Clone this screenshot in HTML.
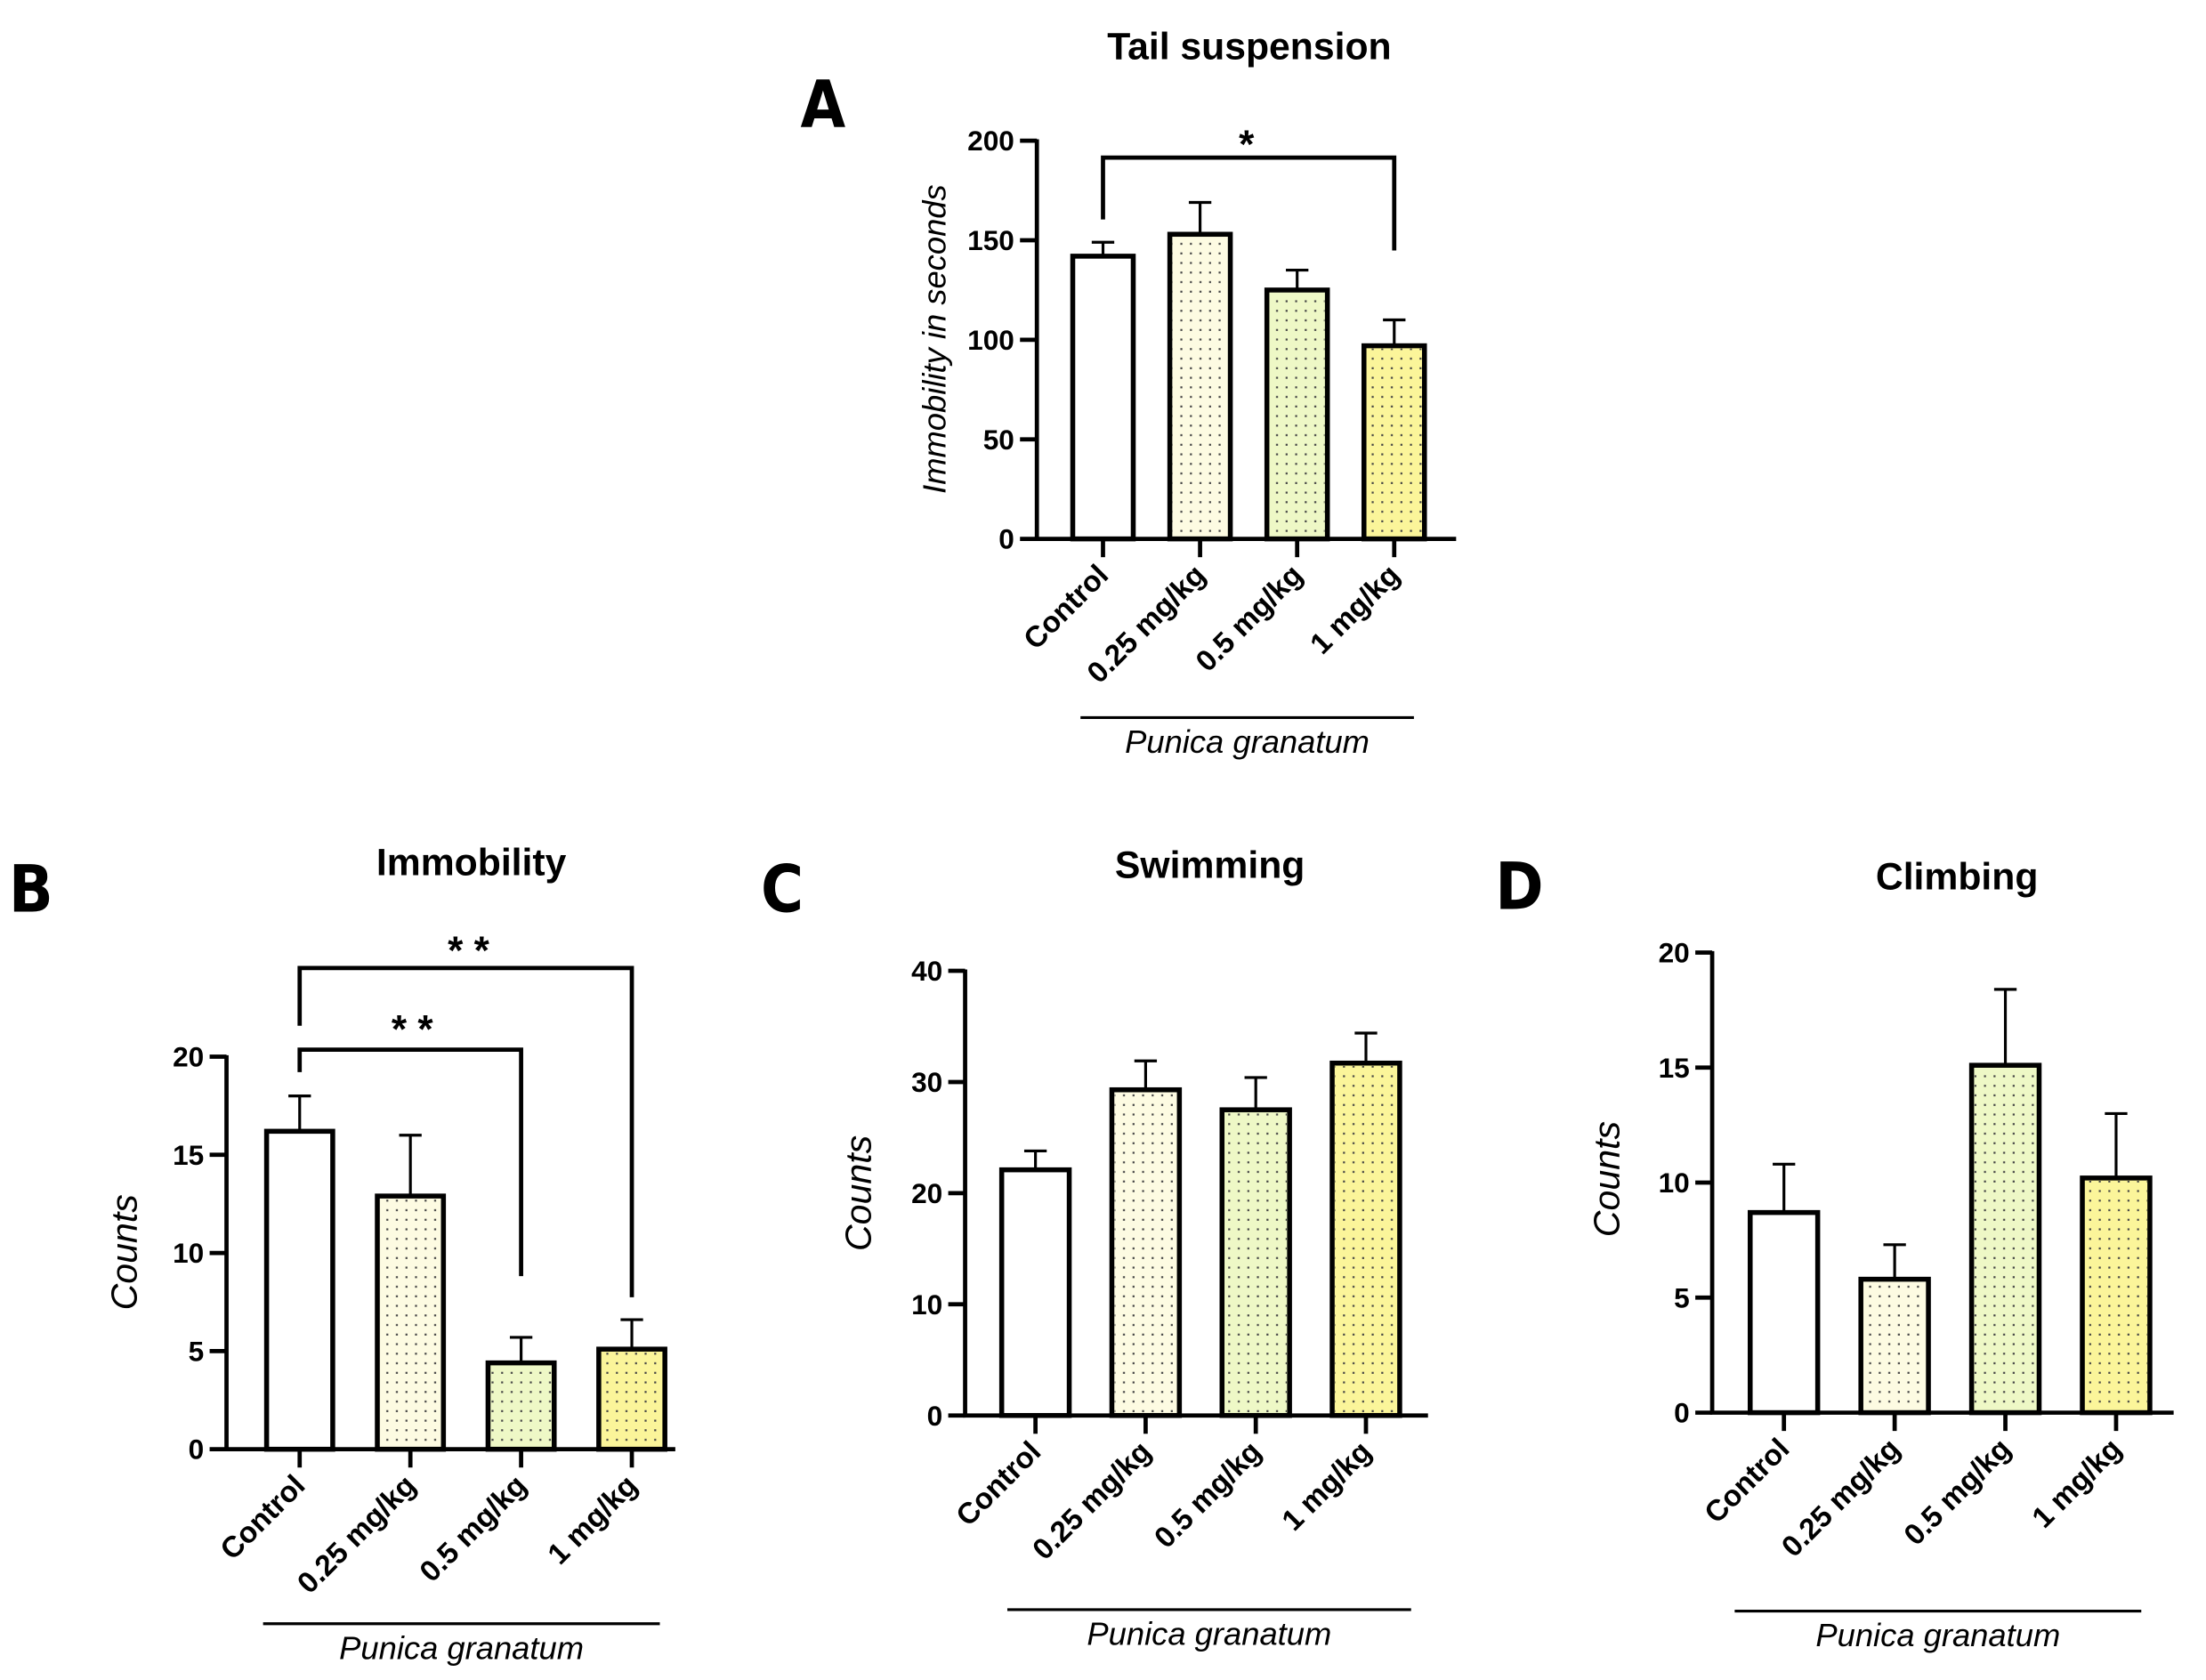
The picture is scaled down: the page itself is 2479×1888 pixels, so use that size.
<!DOCTYPE html>
<html><head><meta charset="utf-8"><style>
html,body{margin:0;padding:0;background:#fff;}
svg{display:block;}
text{font-family:"Liberation Sans",sans-serif;}
</style></head><body>
<svg id="fig" xmlns="http://www.w3.org/2000/svg" width="2479" height="1888" viewBox="0 0 1568 1194" preserveAspectRatio="none">
<defs>
<pattern id="dots" width="6.8" height="6.8" patternUnits="userSpaceOnUse"><rect x="2.6" y="2.6" width="1.4" height="1.4" fill="#444"/></pattern>
</defs>
<rect width="1568" height="1194" fill="#fff"/>
</svg>
<script>
const categories = ["Control","0.25 mg/kg","0.5 mg/kg","1 mg/kg"];
const fills = ["#ffffff","#fdfbe2","#eef8c6","#fbf59a"];
const tailValues = [142,153,125,97];
const tailErrors = [149,169,135,110];
const tailTicks = [0,50,100,150,200];
const immValues = [16.2,12.9,4.4,5.1];
const immErrors = [18,16,5.7,6.6];
const immTicks = [0,5,10,15,20];
const swimValues = [22.1,29.3,27.5,31.7];
const swimErrors = [23.8,31.9,30.4,34.4];
const swimTicks = [0,10,20,30,40];
const climbValues = [8.7,5.8,15.1,10.2];
const climbErrors = [10.8,7.3,18.4,13.0];
const climbTicks = [0,5,10,15,20];

const NS="http://www.w3.org/2000/svg";
const svg=document.getElementById('fig');
function mk(tag,attrs,parent,txt){const e=document.createElementNS(NS,tag);for(const k in attrs)e.setAttribute(k,attrs[k]);if(txt!==undefined)e.textContent=txt;(parent||svg).appendChild(e);return e;}

function panel(o){
  const g=mk('g',{});
  
  
  const ymax=o.ticks[o.ticks.length-1];
  const y=v=>o.y0-(v/ymax)*(o.y0-o.ytop);
  const x=i=>o.x1+o.off+i*o.step;
  const L=mk('text',{x:o.lx,y:o.ly,'font-size':46,'font-weight':'bold','text-anchor':'middle',style:'font-family:"DejaVu Sans Condensed","Liberation Sans Narrow",sans-serif'},g,o.letter);
  
  
  const T=mk('text',{x:o.tx,y:o.ty,'font-size':27,'font-weight':'bold','text-anchor':'middle'},g,o.title);
  
  
  o.values.forEach((v,i)=>{
    const cx=x(i), w=o.bw;
    const eb=mk('line',{x1:cx,x2:cx,y1:y(v),y2:y(o.errors[i]),stroke:'#000','stroke-width':2},g);
    
    
    mk('line',{x1:cx-8,x2:cx+8,y1:y(o.errors[i]),y2:y(o.errors[i]),stroke:'#000','stroke-width':2},g);
    const r=mk('rect',{x:cx-w/2,y:y(v),width:w,height:o.y0-y(v),fill:fills[i],stroke:'#000','stroke-width':3.5},g);
    
    
    if(i>0)mk('rect',{x:cx-w/2+2,y:y(v)+2,width:w-4,height:Math.max(0,o.y0-y(v)-4),fill:'url(#dots)'},g);
    mk('line',{x1:cx,x2:cx,y1:o.y0,y2:o.y0+13,stroke:'#000','stroke-width':3},g);
    const t=mk('text',{x:cx+5,y:o.y0+27,'font-size':21,'font-weight':'bold','text-anchor':'end',transform:`rotate(-45 ${cx+5} ${o.y0+27})`},g,categories[i]);
    
    
  });
  const ax=mk('path',{d:`M${o.x1} ${o.ytop-1}V${o.y0}H${o.x2}`,fill:'none',stroke:'#000','stroke-width':3},g);
  
  
  o.ticks.forEach(v=>{
    mk('line',{x1:o.x1-12,x2:o.x1,y1:y(v),y2:y(v),stroke:'#000','stroke-width':3},g);
    const t=mk('text',{x:o.x1-16,y:y(v)+7,'font-size':20,'font-weight':'bold','text-anchor':'end'},g,String(v));
    
    
  });
  const yl=mk('text',{x:o.ylx,y:o.yly,'font-size':o.ylfs,'font-style':'italic','text-anchor':'middle',transform:`rotate(-90 ${o.ylx} ${o.yly})`,style:'font-family:"Liberation Sans Narrow","Liberation Sans",sans-serif'},g,o.ylabel);
  
  
  mk('line',{x1:o.ux1,x2:o.ux2,y1:o.uy,y2:o.uy,stroke:'#000','stroke-width':2},g);
  const pg=mk('text',{x:(o.ux1+o.ux2)/2,y:o.uy+25,'font-size':23,'font-style':'italic','text-anchor':'middle'},g,'Punica granatum');
  
  
  (o.brackets||[]).forEach(b=>{
    const p=mk('path',{d:`M${x(b.a)} ${b.ya}V${b.y}H${x(b.b)}V${b.yb}`,fill:'none',stroke:'#000','stroke-width':3},g);
    
    
    const s=mk('text',{x:b.sx,y:b.sy,'font-size':28,'font-weight':'bold','text-anchor':'middle'},g,b.label);
    
    
  });
}

panel({name:'panel-a-tail-suspension',letter:'A',lx:585,ly:90,title:'Tail suspension',tx:888,ty:42,
  x1:737,x2:1035,off:47,step:69,bw:43,y0:383,ytop:100,ticks:tailTicks,values:tailValues,errors:tailErrors,
  ylabel:'Immobility in seconds',ylx:672,yly:241,ylfs:23,ux1:768,ux2:1005,uy:510,
  brackets:[{a:0,b:3,y:112,ya:156,yb:178,sx:886,sy:112,label:'*'}]});
panel({name:'panel-b-immobility',letter:'B',lx:22,ly:648,title:'Immobility',tx:335,ty:622,
  x1:161,x2:480,off:52,step:78.7,bw:47,y0:1030,ytop:751,ticks:immTicks,values:immValues,errors:immErrors,
  ylabel:'Counts',ylx:97,yly:890,ylfs:26,ux1:187,ux2:469,uy:1154,
  brackets:[{a:0,b:3,y:688,ya:729,yb:922,sx:333,sy:685,label:'* *'},{a:0,b:2,y:746,ya:762,yb:907,sx:293,sy:741,label:'* *'}]});
panel({name:'panel-c-swimming',letter:'C',lx:556,ly:648,title:'Swimming',tx:860,ty:624,
  x1:686,x2:1015,off:50,step:78.3,bw:48,y0:1006,ytop:690,ticks:swimTicks,values:swimValues,errors:swimErrors,
  ylabel:'Counts',ylx:619,yly:848,ylfs:26,ux1:716,ux2:1003,uy:1144});
panel({name:'panel-d-climbing',letter:'D',lx:1080,ly:646,title:'Climbing',tx:1391,ty:632,
  x1:1217,x2:1545,off:51,step:78.7,bw:48,y0:1004,ytop:677,ticks:climbTicks,values:climbValues,errors:climbErrors,
  ylabel:'Counts',ylx:1151,yly:838,ylfs:26,ux1:1233,ux2:1522,uy:1145});
</script>
</body></html>
